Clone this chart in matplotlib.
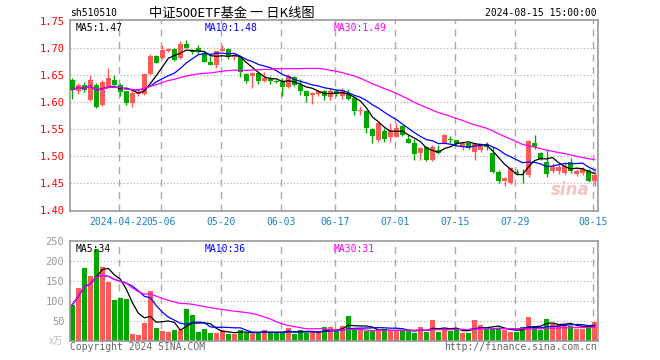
import numpy as np
import pandas as pd
import matplotlib
matplotlib.use("Agg")
from matplotlib import pyplot as plt

# daily K data, 2024-04-10 .. 2024-08-15 (88 trading days)
opens = [1.641, 1.620, 1.632, 1.604, 1.632, 1.595, 1.629, 1.641, 1.632, 1.620,
         1.598, 1.615, 1.615, 1.652, 1.686, 1.681, 1.694, 1.699, 1.681, 1.707,
         1.697, 1.700, 1.691, 1.675, 1.669, 1.695, 1.699, 1.683, 1.683, 1.652,
         1.648, 1.654, 1.640, 1.643, 1.640, 1.638, 1.629, 1.646, 1.631, 1.621,
         1.614, 1.615, 1.621, 1.609, 1.620, 1.611, 1.617, 1.607, 1.584, 1.584,
         1.551, 1.530, 1.546, 1.536, 1.536, 1.556, 1.533, 1.525, 1.506, 1.517,
         1.493, 1.512, 1.525, 1.532, 1.530, 1.518, 1.525, 1.509, 1.512, 1.523,
         1.506, 1.472, 1.455, 1.451, 1.472, 1.470, 1.465, 1.524, 1.507, 1.490,
         1.473, 1.473, 1.469, 1.490, 1.467, 1.469, 1.475, 1.455]
closes = [1.623, 1.632, 1.623, 1.641, 1.592, 1.638, 1.644, 1.632, 1.619, 1.598,
          1.617, 1.619, 1.652, 1.686, 1.672, 1.697, 1.699, 1.678, 1.707, 1.701,
          1.693, 1.693, 1.675, 1.669, 1.694, 1.699, 1.686, 1.686, 1.656, 1.640,
          1.654, 1.640, 1.644, 1.640, 1.638, 1.629, 1.648, 1.632, 1.620, 1.612,
          1.617, 1.621, 1.611, 1.620, 1.615, 1.622, 1.606, 1.583, 1.585, 1.552,
          1.538, 1.561, 1.533, 1.548, 1.552, 1.540, 1.525, 1.504, 1.515, 1.493,
          1.518, 1.507, 1.540, 1.531, 1.523, 1.525, 1.516, 1.523, 1.523, 1.518,
          1.472, 1.455, 1.460, 1.478, 1.469, 1.469, 1.528, 1.517, 1.496, 1.467,
          1.481, 1.481, 1.483, 1.473, 1.473, 1.476, 1.455, 1.465]
highs = [1.644, 1.635, 1.638, 1.651, 1.635, 1.641, 1.664, 1.651, 1.635, 1.621,
         1.620, 1.623, 1.654, 1.689, 1.688, 1.705, 1.701, 1.700, 1.714, 1.715,
         1.699, 1.705, 1.694, 1.685, 1.695, 1.706, 1.701, 1.688, 1.685, 1.654,
         1.656, 1.656, 1.656, 1.648, 1.642, 1.644, 1.652, 1.648, 1.643, 1.623,
         1.619, 1.623, 1.623, 1.626, 1.624, 1.627, 1.625, 1.609, 1.593, 1.586,
         1.553, 1.562, 1.552, 1.561, 1.561, 1.558, 1.540, 1.533, 1.518, 1.519,
         1.521, 1.521, 1.542, 1.538, 1.531, 1.527, 1.527, 1.524, 1.524, 1.527,
         1.518, 1.474, 1.462, 1.480, 1.477, 1.477, 1.530, 1.539, 1.509, 1.511,
         1.488, 1.486, 1.490, 1.497, 1.476, 1.480, 1.477, 1.479]
lows = [1.606, 1.615, 1.619, 1.602, 1.590, 1.594, 1.627, 1.631, 1.611, 1.595,
        1.592, 1.612, 1.614, 1.651, 1.672, 1.680, 1.693, 1.677, 1.680, 1.700,
        1.689, 1.689, 1.674, 1.668, 1.664, 1.694, 1.680, 1.678, 1.646, 1.635,
        1.627, 1.633, 1.638, 1.633, 1.636, 1.612, 1.627, 1.630, 1.614, 1.601,
        1.596, 1.612, 1.604, 1.605, 1.611, 1.606, 1.604, 1.577, 1.577, 1.544,
        1.525, 1.527, 1.527, 1.527, 1.535, 1.538, 1.524, 1.494, 1.494, 1.492,
        1.492, 1.505, 1.523, 1.525, 1.521, 1.512, 1.514, 1.493, 1.509, 1.512,
        1.470, 1.451, 1.445, 1.449, 1.466, 1.451, 1.462, 1.514, 1.494, 1.462,
        1.470, 1.468, 1.465, 1.470, 1.464, 1.466, 1.453, 1.445]
volumes = [90, 132, 182, 162, 229, 184, 147, 102, 107, 104,
           17, 14, 44, 124, 32, 24, 22, 27, 28, 79,
           64, 22, 29, 19, 20, 27, 16, 18, 27, 20,
           17, 20, 27, 20, 20, 20, 32, 16, 27, 20,
           22, 19, 34, 34, 25, 37, 62, 30, 30, 25,
           24, 25, 30, 25, 25, 24, 27, 20, 35, 21,
           52, 21, 30, 25, 30, 20, 20, 52, 39, 30,
           32, 30, 27, 21, 21, 35, 60, 38, 27, 55,
           42, 40, 42, 38, 30, 30, 35, 48]

tick_pos = [8, 15, 25, 35, 44, 54, 64, 74, 87]
tick_labels = ["2024-04-22", "05-06", "05-20", "06-03", "06-17",
               "07-01", "07-15", "07-29", "08-15"]
price_ma_text = ["MA5:1.47", "MA10:1.48", "MA30:1.49"]
vol_ma_text = ["MA5:34", "MA10:36", "MA30:31"]

RED = "#ff5a5a"
GREEN = "#00a800"
GRAY = "#999999"
MONO = "DejaVu Sans Mono"
FS = 7

o = np.array(opens)
c = np.array(closes)
h = np.array(highs)
l = np.array(lows)
v = np.array(volumes)
x = np.arange(len(c))
up = c >= o
colors = np.where(up, RED, GREEN)

cs = pd.Series(c)
vs = pd.Series(v, dtype=float)

fig = plt.figure(figsize=(6.6, 3.6), dpi=100)
ax = fig.add_axes([70 / 660, 1 - 210.5 / 360, 528 / 660, 190.5 / 360])
axv = fig.add_axes([70 / 660, 1 - 340.7 / 360, 528 / 660, 100 / 360])

for a in (ax, axv):
    a.set_xlim(-0.38, 87.57)
    for s in a.spines.values():
        s.set_color(GRAY)
        s.set_linewidth(1.2)
    for t in tick_pos:
        a.axvline(t - 0.28, color="#aaaaaa", lw=1, ls=(0, (5, 4)), zorder=0)
    a.tick_params(length=0)

# price panel
ax.set_ylim(1.40, 1.752)
for yv in [1.45, 1.50, 1.55, 1.60, 1.65, 1.70]:
    ax.axhline(yv, color="#aaaaaa", lw=0.8, ls=(0, (1, 2)), zorder=0)
ax.vlines(x, l, h, colors=colors, lw=1, zorder=2)
body_bottom = np.minimum(o, c)
body_h = np.maximum(np.abs(c - o), 0.0008)
ax.bar(x, body_h, bottom=body_bottom, width=0.78, color=colors, zorder=3)

ax.plot(x, cs.rolling(5, min_periods=1).mean(), color="black", lw=0.9, zorder=4)
ax.plot(x, cs.rolling(10, min_periods=1).mean(), color="#0000ff", lw=0.9, zorder=4)
ax.plot(x, cs.rolling(30, min_periods=1).mean(), color="#ff00ff", lw=0.9, zorder=4)

ax.set_yticks([1.40, 1.45, 1.50, 1.55, 1.60, 1.65, 1.70, 1.75])
ax.set_yticklabels(["%.2f" % t for t in ax.get_yticks()], color="red",
                   family=MONO, fontsize=FS + 0.5)
ax.set_xticks([t - 0.28 for t in tick_pos])
ax.set_xticklabels(tick_labels, color="#1a7fd4", family=MONO, fontsize=FS)
ax.tick_params(axis="y", pad=4)
ax.tick_params(axis="x", pad=5)

ax.text(0.01, 0.985, price_ma_text[0], transform=ax.transAxes, color="black",
        family=MONO, fontsize=FS, va="top")
ax.text(0.255, 0.985, price_ma_text[1], transform=ax.transAxes, color="#0000ff",
        family=MONO, fontsize=FS, va="top")
ax.text(0.5, 0.985, price_ma_text[2], transform=ax.transAxes, color="#ff00ff",
        family=MONO, fontsize=FS, va="top")
ax.text(0.985, 0.06, "sina", transform=ax.transAxes, color="#f4c4c4",
        fontsize=12, fontweight="bold", style="italic", ha="right", va="bottom")

# volume panel
axv.set_ylim(0, 250)
for yv in [50, 100, 150, 200]:
    axv.axhline(yv, color="#aaaaaa", lw=0.8, ls=(0, (1, 2)), zorder=0)
axv.bar(x, v, width=0.78, color=colors, zorder=2)
axv.plot(x, vs.rolling(5, min_periods=1).mean(), color="black", lw=0.9, zorder=3)
axv.plot(x, vs.rolling(10, min_periods=1).mean(), color="#0000ff", lw=0.9, zorder=3)
axv.plot(x, vs.rolling(30, min_periods=1).mean(), color="#ff00ff", lw=0.9, zorder=3)
axv.set_yticks([50, 100, 150, 200, 250])
axv.set_yticklabels(["50", "100", "150", "200", "250"], color=GRAY,
                    family=MONO, fontsize=FS + 0.5)
axv.set_xticks([])
axv.tick_params(axis="y", pad=4)

axv.text(0.01, 0.97, vol_ma_text[0], transform=axv.transAxes, color="black",
         family=MONO, fontsize=FS, va="top")
axv.text(0.255, 0.97, vol_ma_text[1], transform=axv.transAxes, color="#0000ff",
         family=MONO, fontsize=FS, va="top")
axv.text(0.5, 0.97, vol_ma_text[2], transform=axv.transAxes, color="#ff00ff",
         family=MONO, fontsize=FS, va="top")

# header / footer texts
fig.text(70 / 660, 1 - 13 / 360, "sh510510", family=MONO, fontsize=FS,
         va="center", ha="left")
fig.text(232 / 660, 1 - 13 / 360, "中证500ETF基金 一 日K线图",
         family=["Noto Sans CJK SC", "DejaVu Sans"], fontsize=9.5,
         va="center", ha="center")
fig.text(597 / 660, 1 - 13 / 360, "2024-08-15 15:00:00", family=MONO,
         fontsize=FS, va="center", ha="right")
fig.text(49 / 660, 1 - 341 / 360, "x万", family=["Noto Sans CJK SC", "DejaVu Sans"],
         fontsize=7, color="#bbbbbb", va="center", ha="left")
fig.text(70 / 660, 1 - 347 / 360, "Copyright 2024 SINA.COM", family=MONO,
         fontsize=FS, color="#666666", va="center", ha="left")
fig.text(597 / 660, 1 - 347 / 360, "http://finance.sina.com.cn", family=MONO,
         fontsize=FS, color="#666666", va="center", ha="right")

fig.savefig("out.png", dpi=100)
